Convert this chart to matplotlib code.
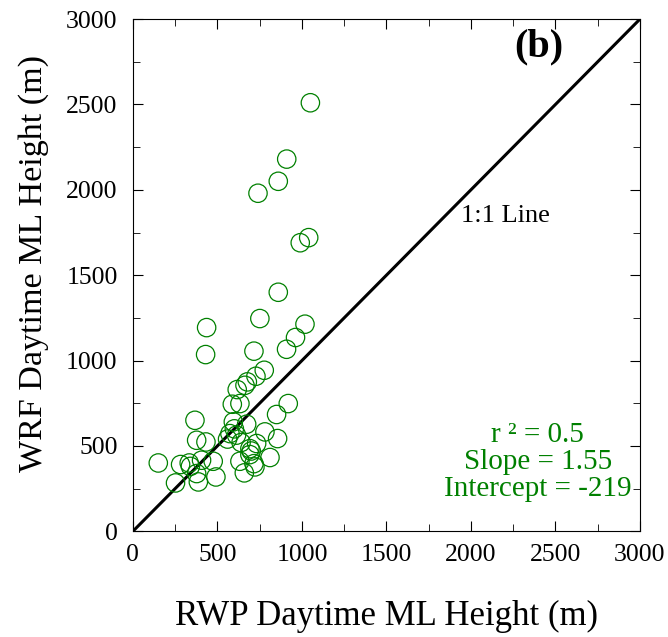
import matplotlib.pyplot as plt
import numpy as np

# RWP vs WRF daytime mixed layer height (m)
rwp = [1050, 910, 860, 740, 1040, 990, 860, 751, 436, 1018,
       962, 909, 430, 716, 777, 728, 677, 617, 663, 588,
       633, 919, 850, 367, 594, 673, 574, 613, 377, 432,
       781, 856, 692, 732, 150, 282, 333, 406, 475, 633,
       692, 716, 811, 722, 659, 377, 387, 491, 252, 560,
       700, 640, 600, 340]
wrf = [2510, 2180, 2050, 1980, 1720, 1690, 1400, 1246, 1193, 1213,
       1135, 1066, 1035, 1055, 943, 908, 875, 830, 855, 744,
       748, 748, 684, 650, 641, 627, 572, 563, 533, 523,
       582, 543, 484, 514, 400, 391, 400, 416, 410, 410,
       449, 396, 432, 377, 342, 338, 289, 318, 283, 540,
       470, 520, 600, 380]

plt.rcParams['font.family'] = ['Liberation Serif', 'DejaVu Serif']

fig = plt.figure(figsize=(6.68, 6.37), dpi=100)
ax = fig.add_axes([0.199, 0.166, 0.759, 0.804])

ax.scatter(rwp, wrf, s=175, facecolors='none', edgecolors='green', linewidths=0.9, zorder=3)
ax.plot([0, 3000], [0, 3000], color='black', lw=2.2, zorder=2)

ax.set_xlim(0, 3000)
ax.set_ylim(0, 3000)
ax.set_xticks(np.arange(0, 3001, 500))
ax.set_yticks(np.arange(0, 3001, 500))
ax.set_xticks(np.arange(250, 3000, 500), minor=True)
ax.set_yticks(np.arange(250, 3000, 500), minor=True)
ax.tick_params(which='both', direction='in', top=True, right=True, labelsize=18.5)
ax.tick_params(axis='y', pad=11)
ax.tick_params(axis='x', pad=9)
ax.tick_params(which='major', length=7)
ax.tick_params(which='minor', length=5)

ax.set_xlabel('RWP Daytime ML Height (m)', fontsize=25)
ax.xaxis.set_label_coords(0.5, -0.135)
ax.set_ylabel('WRF Daytime ML Height (m)', fontsize=24.5)
ax.yaxis.set_label_coords(-0.165, 0.522)

ax.text(2402, 2836, '(b)', fontsize=29, fontweight='bold', ha='center', va='center')
ax.text(2207, 1846, '1:1 Line', fontsize=19, ha='center', va='center')
ax.text(2395, 404, 'r ² = 0.5\nSlope = 1.55\nIntercept = -219', fontsize=21,
        color='green', ha='center', va='center', linespacing=1.05)

fig.savefig('out.png', dpi=100)
